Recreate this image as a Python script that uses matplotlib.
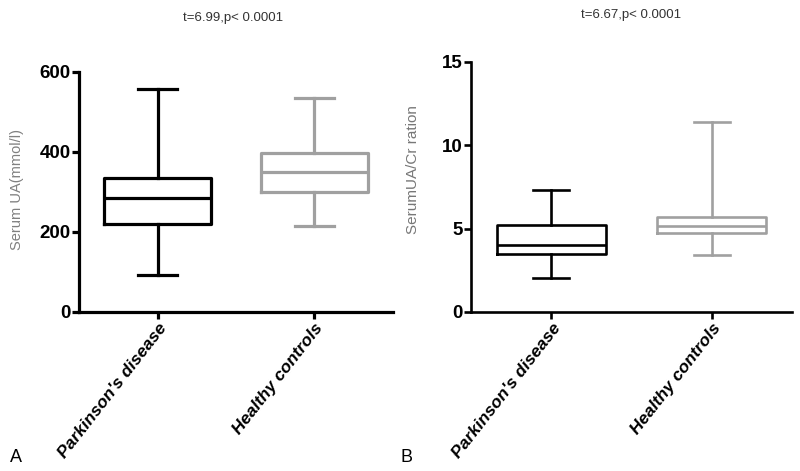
"""
Serum UA and UA/Cr ratio: Parkinson's disease vs healthy controls (box plots).
"""

import matplotlib.pyplot as plt
from matplotlib.transforms import ScaledTranslation

plt.rcParams['font.family'] = ['Liberation Sans', 'DejaVu Sans']

groups = ["Parkinson's disease", "Healthy controls"]
colores = ['black', '#a0a0a0']

# panel A: serum UA (min, q1, median, q3, max)
ua_min = [92, 215]
ua_q1 = [220, 300]
ua_med = [285, 350]
ua_q3 = [335, 397]
ua_max = [557, 535]

# panel B: UA/Cr
cr_min = [2.05, 3.4]
cr_q1 = [3.45, 4.75]
cr_med = [4.0, 5.15]
cr_q3 = [5.2, 5.7]
cr_max = [7.3, 11.4]

titulos = ["t=6.99,p< 0.0001", "t=6.67,p< 0.0001"]
ylabels = ["Serum UA(mmol/l)", "SerumUA/Cr ration"]
yticks_a = [0, 200, 400, 600]
yticks_b = [0, 5, 10, 15]


def stats(mn, q1, med, q3, mx):
    return [dict(whislo=mn[i], q1=q1[i], med=med[i], q3=q3[i], whishi=mx[i],
                 fliers=[], label=groups[i]) for i in range(len(groups))]


def panel(ax, st, yticks, lw, capw):
    for i, s in enumerate(st):
        c = colores[i]
        props = dict(color=c, linewidth=lw)
        ax.bxp([s], positions=[i], widths=0.68, capwidths=capw,
               showfliers=False, boxprops=props, medianprops=props,
               whiskerprops=props, capprops=props)
    ax.set_xlim(-0.5, 1.5)
    ax.set_ylim(yticks[0], yticks[-1])
    ax.set_yticks(yticks)
    ax.set_xticks(range(len(groups)))
    ax.set_xticklabels(groups, rotation=52, ha='right', rotation_mode='anchor',
                       fontsize=12.5, fontweight='bold', style='italic')
    for lab in ax.get_xticklabels():
        lab.set_transform(lab.get_transform() + ScaledTranslation(0.03, -0.06, ax.figure.dpi_scale_trans))
    for t in ax.get_yticklabels():
        t.set_fontweight('bold')
        t.set_fontsize(13.5)
    for sp in ['top', 'right']:
        ax.spines[sp].set_visible(False)
    for sp in ['left', 'bottom']:
        ax.spines[sp].set_linewidth(lw)
    ax.tick_params(width=lw, length=5, pad=1)
    ax.set_facecolor('none')


fig = plt.figure(figsize=(8, 4.71), dpi=100)
ax1 = fig.add_axes([0.099, 0.3376, 0.392, 0.5096])
ax2 = fig.add_axes([0.589, 0.3376, 0.401, 0.531])

panel(ax1, stats(ua_min, ua_q1, ua_med, ua_q3, ua_max), yticks_a, 2.3, 0.245)
panel(ax2, stats(cr_min, cr_q1, cr_med, cr_q3, cr_max), yticks_b, 1.9, 0.225)

fig.text(233 / 800, 1 - 18 / 471, titulos[0], ha='center', va='center', fontsize=9.5, color='#333333')
fig.text(631 / 800, 1 - 15 / 471, titulos[1], ha='center', va='center', fontsize=9.5, color='#333333')

fig.text(17 / 800, 1 - 190 / 471, ylabels[0], rotation=90, ha='center', va='center',
         fontsize=10.5, color='#808080')
fig.text(413 / 800, 1 - 170 / 471, ylabels[1], rotation=90, ha='center', va='center',
         fontsize=11, color='#777777')

fig.text(10 / 800, 1 - 457 / 471, "A", ha='left', va='center', fontsize=13)
fig.text(401 / 800, 1 - 457 / 471, "B", ha='left', va='center', fontsize=13)

fig.savefig("out.png", dpi=100)
